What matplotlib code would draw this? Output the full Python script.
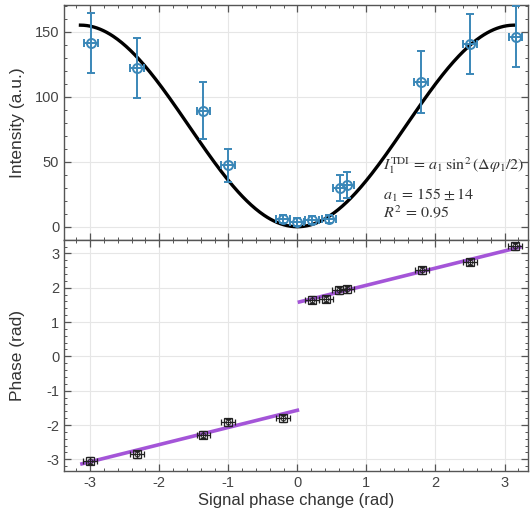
import numpy as np
import matplotlib
matplotlib.use("Agg")
import matplotlib.pyplot as plt
from matplotlib.ticker import MultipleLocator

plt.rcParams['font.family'] = ['Liberation Sans', 'DejaVu Sans']
plt.rcParams['mathtext.fontset'] = 'stix'
plt.rcParams['axes.unicode_minus'] = False

# ---- data ----
int_x = [-2.99, -2.32, -1.36, -1.00, -0.21, -0.01, 0.21, 0.46, 0.62, 0.72, 1.79, 2.50, 3.16]
int_y = [141.5, 122.3, 89.2, 47.2, 6.2, 3.8, 5.2, 6.2, 29.5, 32.1, 111.5, 140.3, 146.2]
int_yerr = [23, 23, 22, 12.5, 3, 3, 3, 3, 10, 10, 24, 23, 23.5]
int_xerr = [0.1] * len(int_x)

ph_x = [-3.00, -2.32, -1.36, -1.00, -0.21, 0.21, 0.41, 0.60, 0.72, 1.80, 2.50, 3.15]
ph_y = [-3.04, -2.85, -2.28, -1.92, -1.80, 1.65, 1.67, 1.92, 1.96, 2.51, 2.75, 3.21]
ph_yerr = [0.1] * len(ph_x)
ph_xerr = [0.1] * len(ph_x)

a1 = 155
slope = 0.5
offset = np.pi / 2

xticks = [-3, -2, -1, 0, 1, 2, 3]
top_yticks = [0, 50, 100, 150]
bot_yticks = [-3, -2, -1, 0, 1, 2, 3]

fig = plt.figure(figsize=(5.31, 5.21), dpi=100)
W, H = 531, 521
def box(l, t, r, b):
    return [l / W, 1 - b / H, (r - l) / W, (b - t) / H]

ax1 = fig.add_axes(box(64, 5, 528, 240))
ax2 = fig.add_axes(box(64, 240, 528, 471))

blue = '#3a87b8'
purple = '#a455d8'
txtc = '#333333'

# top panel
xx = np.linspace(-np.pi, np.pi, 400)
ax1.plot(xx, a1 * np.sin(xx / 2) ** 2, color='black', lw=2.4, zorder=3)
ax1.errorbar(int_x, int_y, yerr=int_yerr, xerr=int_xerr, fmt='o', mfc='none',
             mec=blue, ms=6.5, mew=1.4, ecolor=blue, elinewidth=1.4,
             capsize=3, capthick=1.4, zorder=4)
ax1.set_xlim(-3.38, 3.34)
ax1.set_ylim(-10.2, 170.5)
ax1.set_yticks(top_yticks)
ax1.yaxis.set_minor_locator(MultipleLocator(10))
ax1.set_ylabel('Intensity (a.u.)', fontsize=12.5, color=txtc)
ax1.tick_params(labelbottom=False)

ax1.text(0.687, 0.315, r'$I_1^{\mathrm{TDI}}\,=\,a_1\,\sin^2(\Delta\varphi_1/2)$',
         transform=ax1.transAxes, fontsize=11.5, color=txtc, va='center')
ax1.text(0.687, 0.19, r'$a_1\,=\,155 \pm 14$', transform=ax1.transAxes,
         fontsize=11.5, color=txtc, va='center')
ax1.text(0.687, 0.115, r'$R^2\,=\,0.95$', transform=ax1.transAxes,
         fontsize=11.5, color=txtc, va='center')

# bottom panel
xl = np.linspace(-3.12, 0.0, 50)
xr = np.linspace(0.03, 3.22, 50)
ax2.plot(xl, slope * xl - offset, color=purple, lw=2.6, zorder=3)
ax2.plot(xr, slope * xr + offset, color=purple, lw=2.6, zorder=3)
ax2.errorbar(ph_x, ph_y, yerr=ph_yerr, xerr=ph_xerr, fmt='s', mfc='none',
             mec='#222222', ms=6, mew=0.9, ecolor='#222222', elinewidth=0.9,
             capsize=2.5, capthick=0.9, zorder=4)
ax2.plot(ph_x, ph_y, 'o', mfc='none', mec='#222222', ms=3.5, mew=0.7, zorder=5)
ax2.set_xlim(-3.38, 3.34)
ax2.set_ylim(-3.34, 3.39)
ax2.set_yticks(bot_yticks)
ax2.yaxis.set_minor_locator(MultipleLocator(0.2))
ax2.set_ylabel('Phase (rad)', fontsize=12.5, color=txtc)
ax2.set_xlabel('Signal phase change (rad)', fontsize=12, color=txtc, labelpad=2)

for ax in (ax1, ax2):
    ax.set_xticks(xticks)
    ax.xaxis.set_minor_locator(MultipleLocator(0.2))
    ax.grid(True, which='major', color='#e6e6e6', lw=0.8, zorder=0)
    ax.set_axisbelow(True)
    ax.tick_params(which='both', direction='in', top=True, right=True,
                   color='#555555', labelsize=10.5, labelcolor='#444444')
    ax.tick_params(which='major', length=5, width=0.9)
    ax.tick_params(which='minor', length=2.5, width=0.7)
    for s in ax.spines.values():
        s.set_color('#555555')
        s.set_linewidth(1.0)

ax1.yaxis.set_label_coords(-0.085, 0.5)
ax2.yaxis.set_label_coords(-0.085, 0.5)

fig.savefig('out.png', dpi=100)
